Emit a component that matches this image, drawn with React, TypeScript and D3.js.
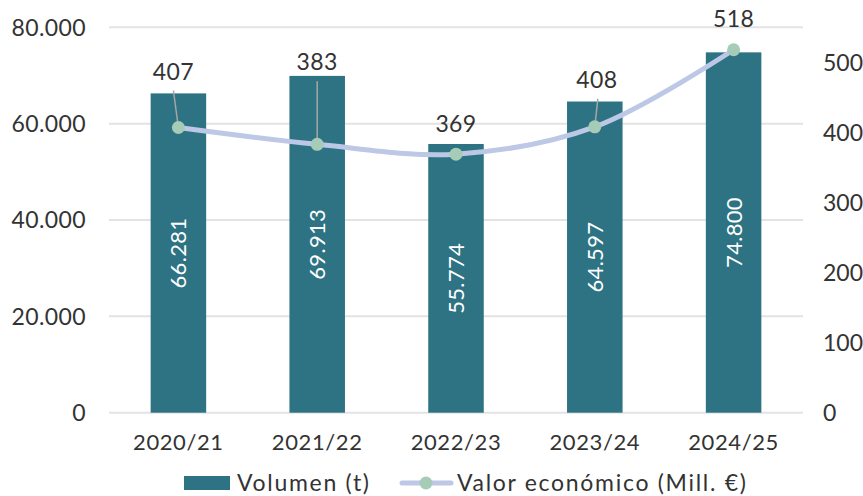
import React from "react";
import { scaleBand, scaleLinear, line, curveCatmullRom } from "d3";

const seasons = ["2020/21", "2021/22", "2022/23", "2023/24", "2024/25"];
const volumen = [66281, 69913, 55774, 64597, 74800];
const valor = [407, 383, 369, 408, 518];
const leftTicks = [0, 20000, 40000, 60000, 80000];
const rightTicks = [0, 100, 200, 300, 400, 500];
// how far each value label sits above its point (Excel moved some of them)
const labelLift = [48, 74, 22, 39, 23];

const W = 863;
const H = 496;
const margin = { top: 27.3, right: 60, bottom: 83.3, left: 109 };
const FONT = "Lato, 'Open Sans', sans-serif";
const BAR = "#2e7384";
const LINE = "#bcc8e6";
const DOT = "#a6cbb6";
const TEXT = "#333333";

const fmt = (v: number) => v.toLocaleString("de-DE");

export default function App() {
  const x = scaleBand().domain(seasons).range([margin.left, W - margin.right]).padding(0);
  const yL = scaleLinear().domain([0, 80000]).range([H - margin.bottom, margin.top]);
  const yR = scaleLinear().domain([0, 550]).range([H - margin.bottom, margin.top]);
  const bw = x.bandwidth() * 0.4;
  const cx = (s: string) => (x(s) as number) + x.bandwidth() / 2;

  const pts = seasons.map((s, i) => [cx(s), yR(valor[i])] as [number, number]);
  const path = line().curve(curveCatmullRom.alpha(0.5))(pts) as string;

  return (
    <svg width={W} height={H} style={{ position: "absolute", left: 0, top: 0, background: "#fff" }} fontFamily={FONT}>
      {leftTicks.map((t) => (
        <g key={t}>
          <line x1={margin.left} x2={W - margin.right} y1={yL(t)} y2={yL(t)} stroke="#e3e3e3" strokeWidth={2} />
          <text x={86} y={yL(t)} dy="0.36em" textAnchor="end" fontSize={23} letterSpacing={0.4} fill={TEXT}>
            {fmt(t)}
          </text>
        </g>
      ))}
      {rightTicks.map((t) => (
        <text key={t} x={823} y={yR(t)} dy="0.36em" textAnchor="start" fontSize={23} fill={TEXT}>
          {t}
        </text>
      ))}

      {seasons.map((s, i) => {
        const top = yL(volumen[i]);
        const base = yL(0);
        const mid = (top + base) / 2;
        return (
          <g key={s}>
            <rect x={cx(s) - bw / 2} y={top} width={bw} height={base - top} fill={BAR} />
            <text
              transform={`translate(${cx(s)},${mid}) rotate(-90)`}
              dy="0.36em"
              textAnchor="middle"
              fontSize={22}
              letterSpacing={0.3}
              fill="#ffffff"
            >
              {fmt(volumen[i])}
            </text>
            <text x={cx(s)} y={450} textAnchor="middle" fontSize={22} letterSpacing={0.6} fill={TEXT}>
              {s}
            </text>
          </g>
        );
      })}

      {/* leader lines for displaced labels */}
      {pts.map(([px, py], i) =>
        labelLift[i] > 30 ? (
          <line
            key={"ll" + i}
            x1={px - (i === 0 ? 5 : i === 3 ? -3 : 0)}
            y1={py - labelLift[i] + 11}
            x2={px}
            y2={py}
            stroke="#a6a6a6"
            strokeWidth={1.5}
          />
        ) : null
      )}

      <path d={path} fill="none" stroke={LINE} strokeWidth={5} strokeLinecap="round" />
      {pts.map(([px, py], i) => (
        <circle key={"c" + i} cx={px} cy={py} r={6.5} fill={DOT} />
      ))}
      {pts.map(([px, py], i) => (
        <text
          key={"v" + i}
          x={px - (i === 0 ? 5 : i === 3 ? -2 : 0)}
          y={py - labelLift[i]}
          textAnchor="middle"
          fontSize={23}
          letterSpacing={0.4}
          fill={TEXT}
        >
          {valor[i]}
        </text>
      ))}

      {/* legend */}
      <rect x={184} y={476} width={46} height={14} fill={BAR} />
      <text x={237} y={491} fontSize={23} letterSpacing={1.7} fill={TEXT}>
        Volumen (t)
      </text>
      <line x1={402} x2={451} y1={483} y2={483} stroke={LINE} strokeWidth={5} strokeLinecap="round" />
      <circle cx={426} cy={483} r={6.5} fill={DOT} />
      <text x={457} y={491} fontSize={23} letterSpacing={1.7} fill={TEXT}>
        Valor económico (Mill. €)
      </text>
    </svg>
  );
}
